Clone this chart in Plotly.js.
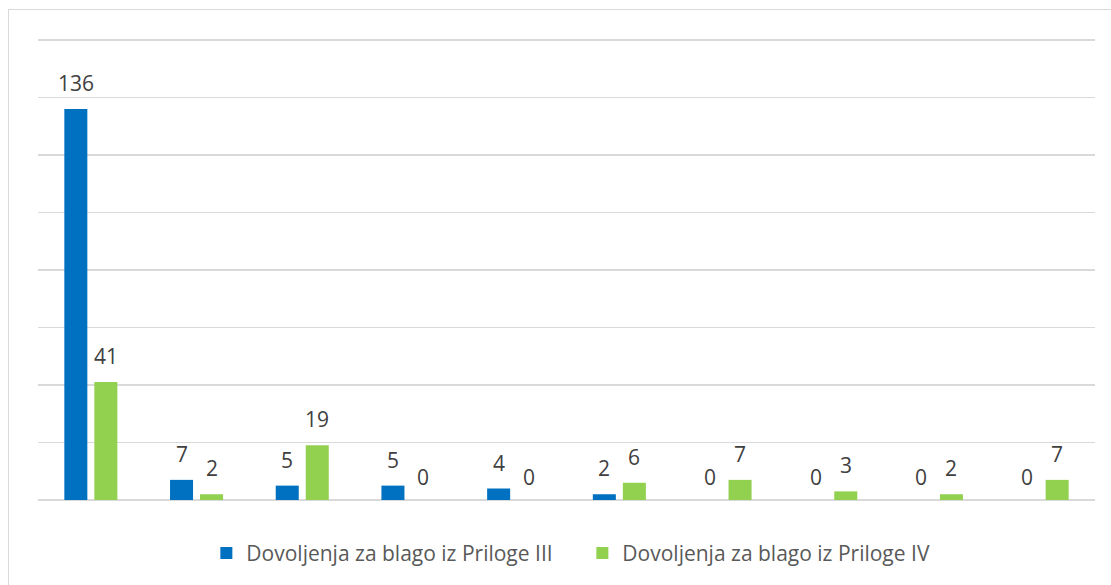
<!DOCTYPE html>
<html>
<head>
<meta charset="utf-8">
<script src="https://cdn.plot.ly/plotly-3.0.1.min.js"></script>
<style>
  html, body { margin: 0; padding: 0; background: #ffffff; overflow: hidden; }
  #frame { position: absolute; left: 8px; top: 9px; width: 1300px; height: 800px; border: 1px solid #d9d9d9; box-sizing: border-box; }
  #chart { position: absolute; left: 0; top: 0; width: 1111px; height: 585px; }
</style>
</head>
<body>
<div id="frame"></div>
<div id="chart"></div>
<script>
const categories = ['K1', 'K2', 'K3', 'K4', 'K5', 'K6', 'K7', 'K8', 'K9', 'K10'];
const seriesIIIName = 'Dovoljenja za blago iz Priloge III';
const seriesIVName = 'Dovoljenja za blago iz Priloge IV';
const seriesIII = [136, 7, 5, 5, 4, 2, 0, 0, 0, 0];
const seriesIV = [41, 2, 19, 0, 0, 6, 7, 3, 2, 7];

const labelFont = { family: 'Open Sans, sans-serif', size: 21, color: '#404040' };

const traces = [
  {
    type: 'bar', name: seriesIIIName, x: categories, y: seriesIII,
    marker: { color: '#0070c0' }, hoverinfo: 'skip'
  },
  {
    type: 'bar', name: seriesIVName, x: categories, y: seriesIV,
    marker: { color: '#92d050' }, hoverinfo: 'skip'
  }
];

// data labels placed above each bar via the axes' own scales
const annotations = [];
[[seriesIII, -15], [seriesIV, 15]].forEach(([vals, dx]) => {
  vals.forEach((v, i) => {
    annotations.push({
      x: i, y: v, xref: 'x', yref: 'y',
      text: String(v), showarrow: false,
      xanchor: 'center', yanchor: 'bottom',
      xshift: dx, yshift: v === 0 ? 7 : 10,
      font: labelFont
    });
  });
});

const layout = {
  width: 1111, height: 585,
  margin: { l: 38, r: 16, t: 37, b: 84 },
  paper_bgcolor: 'rgba(0,0,0,0)',
  plot_bgcolor: 'rgba(0,0,0,0)',
  barmode: 'group',
  bargap: 0.432,
  bargroupgap: 0.233,
  showlegend: true,
  legend: {
    orientation: 'h', x: 0.515, xanchor: 'center', y: -0.113, yanchor: 'middle',
    entrywidth: 331, entrywidthmode: 'pixels',
    font: { family: 'Open Sans, sans-serif', size: 21, color: '#595959' },
    itemclick: false, itemdoubleclick: false
  },
  xaxis: {
    type: 'category', range: [-0.5, categories.length - 0.5],
    showticklabels: false, ticks: '', showgrid: false,
    zeroline: false, showline: false
  },
  yaxis: {
    range: [0, 161], dtick: 20, showticklabels: false, ticks: '',
    showgrid: true, gridcolor: '#d9d9d9', gridwidth: 1.5,
    zeroline: true, zerolinecolor: '#d9d9d9', zerolinewidth: 1.5, showline: false
  },
  annotations: annotations
};

Plotly.newPlot('chart', traces, layout, { staticPlot: true, displayModeBar: false });
</script>
</body>
</html>
